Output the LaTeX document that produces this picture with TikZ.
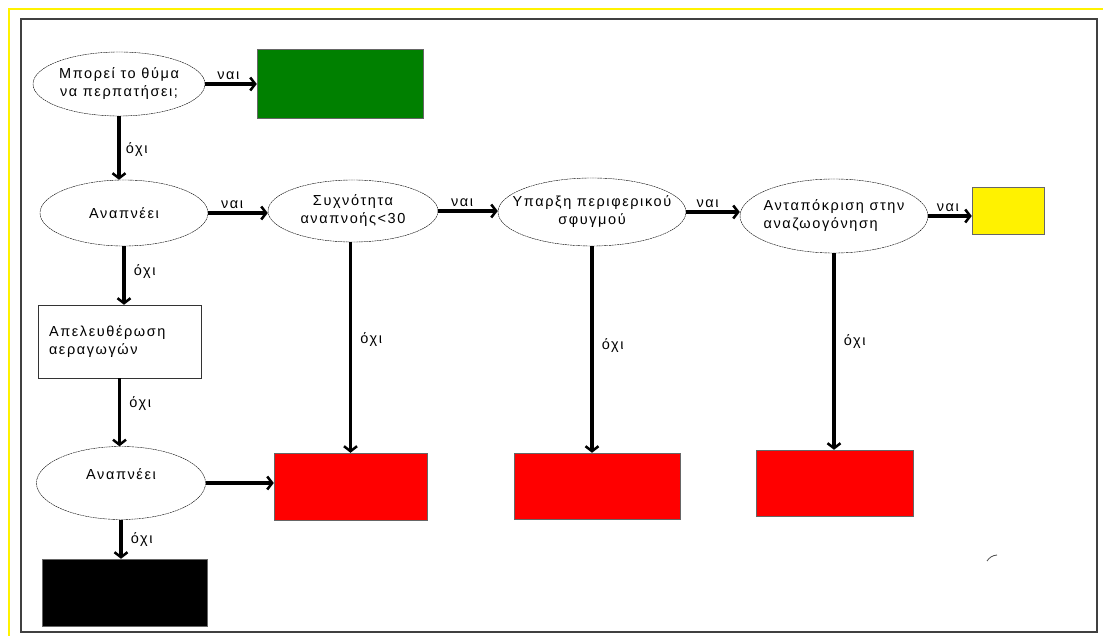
\documentclass[tikz,border=0pt]{standalone}
\usepackage{fontspec}
\setmainfont{Liberation Sans}[LetterSpace=11]
\usepackage{tikz}
\usetikzlibrary{shapes.geometric,arrows.meta}

\newcommand{\grk}{\fontsize{14.5}{18}\selectfont}

\tikzset{
  decis/.style={ellipse, draw, thin, dash pattern=on 2pt off 0.6pt,
    inner xsep=-16pt, inner ysep=0pt, align=center, font=\grk},
  outc/.style={rectangle, draw=black!60, thin, inner sep=0pt},
  arr/.style={line width=3.8pt, -{Straight Barb[length=5pt,width=13pt,line width=2.5pt]}},
  lbl/.style={font=\grk, inner sep=2pt}
}

\begin{document}
\begin{tikzpicture}[x=1pt,y=-1pt]
\useasboundingbox (0,0) rectangle (1103,636);
\fill[white] (0,0) rectangle (1103,636);
% frames
\draw[color=yellow, line width=2pt] (9,636) -- (9,9) -- (1103,9);
\draw[color=black!75, line width=1.5pt] (21,19) rectangle (1097,632);

% questions
\node[decis, minimum width=172pt, minimum height=64pt] (e1) at (119,84) {Μπορεί το θύμα\\να περπατήσει;};
\node[decis, minimum width=168pt, minimum height=66pt] (e2) at (124,213) {Αναπνέει};
\node[decis, minimum width=170pt, minimum height=62pt] (e3) at (353,211) {Συχνότητα\\αναπνοής<30};
\node[decis, minimum width=188pt, minimum height=68pt] (e4) at (592,212) {Υπαρξη περιφερικού\\σφυγμού};
\node[decis, minimum width=188pt, minimum height=74pt, align=left] (e5) at (834,216) {Ανταπόκριση στην\\αναζωογόνηση};
\node[decis, minimum width=169pt, minimum height=73pt] (e6) at (121,483) {Αναπνέει\\~};

% action box
\node[outc, draw=black!80, minimum width=163pt, minimum height=73pt,
  text width=141pt, align=left, font=\grk] (ra) at (119.5,341.5) {Απελευθέρωση\\ αεραγωγών};

% outcomes
\node[outc, fill={rgb,255:red,0;green,128;blue,0}, minimum width=166pt, minimum height=69pt] (gn) at (340,83.5) {};
\node[outc, fill=yellow, minimum width=72pt, minimum height=47pt] (yw) at (1008,210.5) {};
\node[outc, fill=red, minimum width=153pt, minimum height=67pt] (r1) at (350.5,486.5) {};
\node[outc, fill=red, minimum width=166pt, minimum height=66pt] (r2) at (597,486) {};
\node[outc, fill=red, minimum width=157pt, minimum height=66pt] (r3) at (834.5,483) {};
\node[outc, fill=black, minimum width=165pt, minimum height=67pt] (bk) at (124.5,592.5) {};

% yes arrows
\draw[arr] (e1.east) -- (e1.east -| gn.west) node[lbl, pos=0.45, above] {ναι};
\draw[arr] (e2.east) -- (e2.east -| e3.west) node[lbl, pos=0.4, above] {ναι};
\draw[arr] (e3.east) -- (e3.east -| e4.west) node[lbl, pos=0.4, above] {ναι};
\draw[arr] (e4.east) -- (e4.east -| e5.west) node[lbl, pos=0.4, above] {ναι};
\draw[arr] (e5.east) -- (e5.east -| yw.west) node[lbl, pos=0.45, above] {ναι};
\draw[arr] (e6.east) -- (e6.east -| r1.west);

% no arrows
\draw[arr] (e1.south) -- (e1.south |- e2.north) node[lbl, pos=0.53, right, xshift=3pt] {όχι};
\draw[arr] (e2.south) -- (e2.south |- ra.north) node[lbl, pos=0.43, right, xshift=6pt] {όχι};
\draw[arr] (ra.south) -- (ra.south |- e6.north) node[lbl, pos=0.37, right, xshift=6pt] {όχι};
\draw[arr] (e6.south) -- (e6.south |- bk.north) node[lbl, pos=0.5, right, xshift=6pt] {όχι};
\draw[arr] (r1.north |- e3.south) -- (r1.north) node[lbl, pos=0.46, right, xshift=6pt] {όχι};
\draw[arr] (e4.south) -- (e4.south |- r2.north) node[lbl, pos=0.48, right, xshift=6pt] {όχι};
\draw[arr] (e5.south) -- (e5.south |- r3.north) node[lbl, pos=0.45, right, xshift=6pt] {όχι};

% stray mark
\draw[color=black!70, line width=0.8pt] (987,561) to[bend left=25] (997,555);
\end{tikzpicture}
\end{document}
